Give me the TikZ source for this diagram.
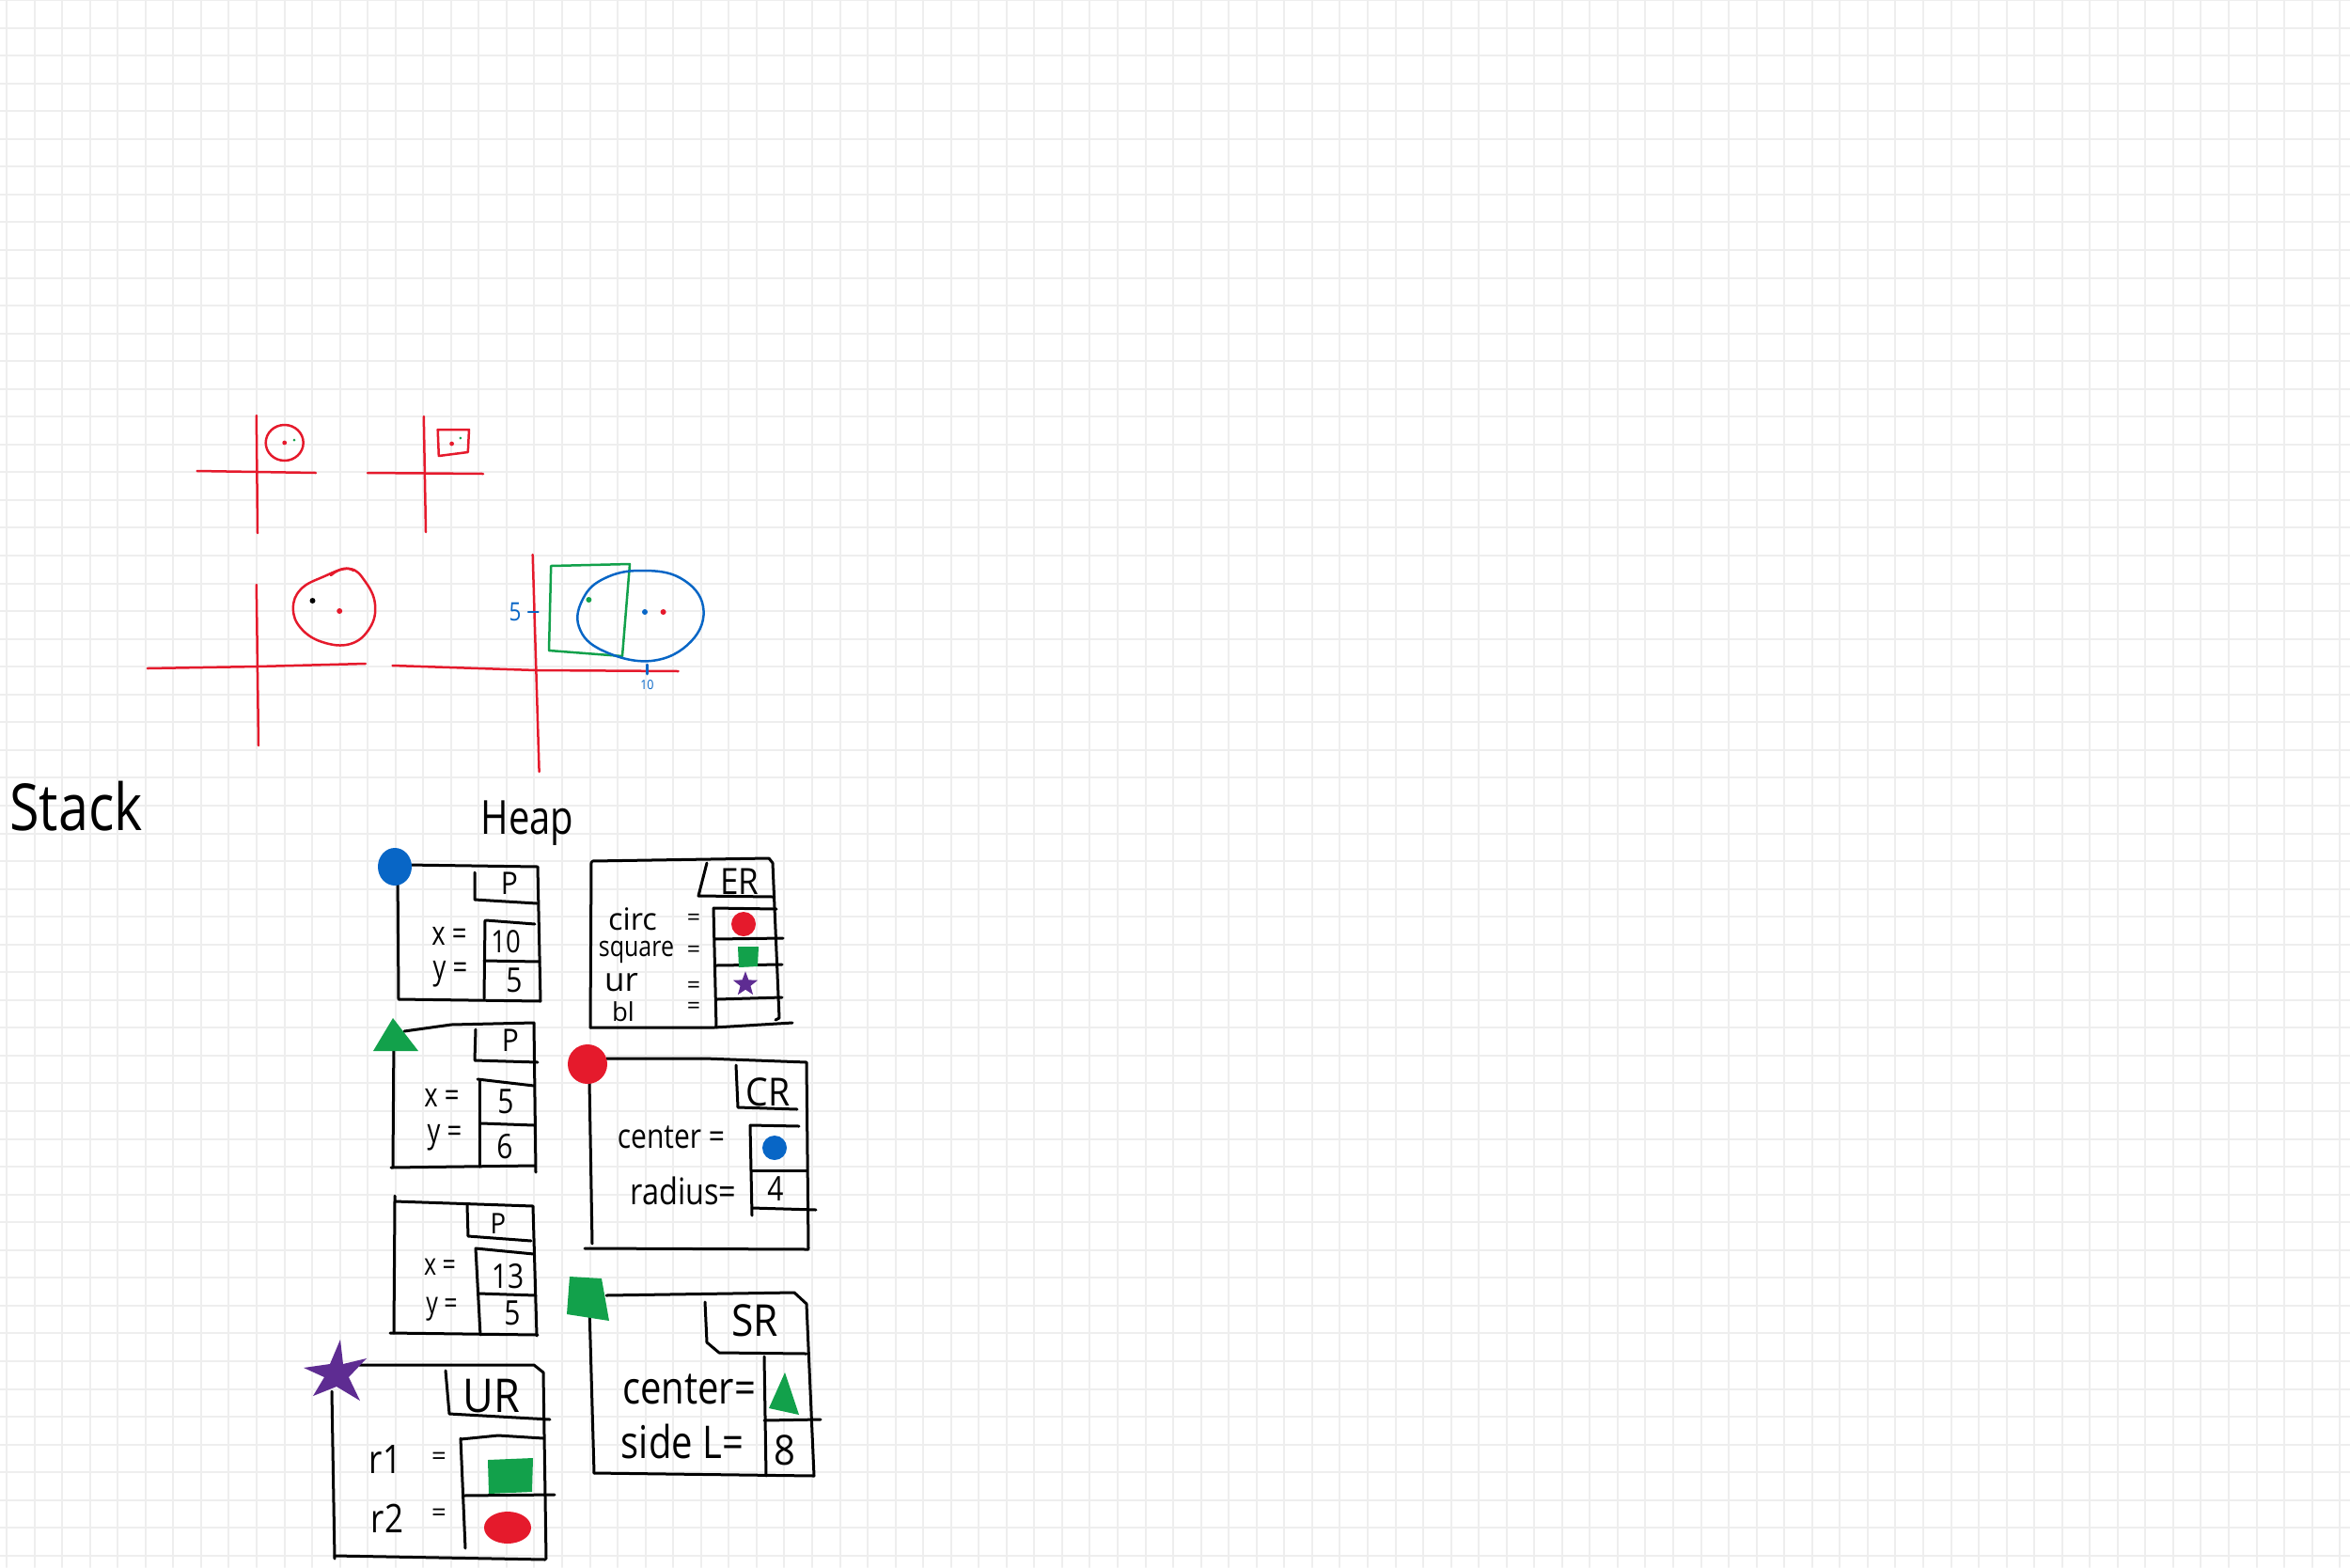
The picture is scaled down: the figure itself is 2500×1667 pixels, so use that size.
\documentclass[tikz,border=0pt]{standalone}
\usepackage{fontspec}
\setmainfont{Open Sans}
\usepackage{graphicx}
\usetikzlibrary{shapes.geometric}
\definecolor{gridc}{HTML}{EEEEEE}
\definecolor{hred}{HTML}{E51A2C}
\definecolor{hblue}{HTML}{0866C6}
\definecolor{hgreen}{HTML}{12A14B}
\definecolor{hpurple}{HTML}{5E2C92}
\newcommand{\hwt}[3]{\fontsize{#1}{#1}\selectfont\scalebox{1}[#2]{#3}}
\begin{document}
\begin{tikzpicture}[x=0.4pt,y=-0.4pt,line cap=round,line join=round,
  ink/.style={line width=1.2pt,black},
  axis/.style={line width=1pt,hred},
  thin/.style={line width=1pt},
  txt/.style={inner sep=0pt,anchor=center}]
\useasboundingbox (0,0) rectangle (2500,1667);
\fill[white] (0,0) rectangle (2500,1667);
% grid
\foreach \i in {0,...,84} \draw[gridc,line width=0.8pt] ({7+\i*29.55},0) -- ({7+\i*29.55},1667);
\foreach \i in {0,...,56} \draw[gridc,line width=0.8pt] (0,{\i*29.55}) -- (2500,{\i*29.55});

% ---------- graph 1 (circle)
\draw[axis] (272.8,442) -- (274,567);
\draw[axis] (209.7,501) -- (336,503);
\draw[axis] (302.7,471) ellipse[x radius=20,y radius=19];
\fill[hred] (302.7,471) circle[radius=2.4];
\fill[hgreen] (313,468) circle[radius=1.5];
% ---------- graph 2 (square)
\draw[axis] (450.8,443) -- (453,566);
\draw[axis] (391,503) -- (514,504);
\draw[axis] (465.7,457) -- (499,457) -- (497.8,481) -- (466.8,485) -- cycle;
\fill[hred] (480.6,472) circle[radius=2.4];
\fill[hgreen] (489.8,466) circle[radius=1.5];
% ---------- graph 3
\draw[axis] (272.8,622) -- (275,793);
\draw[axis] (156.9,711) -- (274,709) -- (388.8,706);
\draw[axis] plot[smooth cycle,tension=0.7] coordinates {(371.6,605) (388.8,619) (399,643) (393.4,668) (372.7,685) (342.9,683) (319.9,668) (311.9,647) (319.9,627) (342.9,614)};
\draw[axis] (352,612) .. controls (361.2,604) and (370.4,603) .. (376.2,607);
\fill[black] (332.5,639) circle[radius=3];
\fill[hred] (361.2,650) circle[radius=3];
% ---------- graph 4
\draw[axis] (566.7,590) -- (573.6,821);
\draw[axis] (417.5,708) -- (570.2,713) -- (721.7,714);
\draw[hgreen,thin] (586.2,602) -- (670,600) -- (662,698) -- (584,692) -- cycle;
\draw[hblue,thin] plot[smooth cycle,tension=0.7] coordinates {(681.5,607) (724,615) (748,645) (735.5,682) (693,703) (641,692) (616,667) (620.7,636) (643.6,615)};
\draw[hblue,thin] (688.4,707) -- (688.4,717);
\draw[hblue,thin] (562,651) -- (572.5,651);
\fill[hgreen] (626.4,638) circle[radius=3];
\fill[hblue] (686,651) circle[radius=3];
\fill[hred] (705.6,651) circle[radius=3];
\node[txt,text=hblue] (g5) at (548,651) {\hwt{9}{1.2}{5}};
\node[txt,text=hblue] (g10) at (688.4,729) {\hwt{5}{1.1}{10}};

% ---------- titles
\node[txt] (stack) at (81,858) {\hwt{23}{1.2}{Stack}};
\node[txt] (heap) at (561,876) {\hwt{16}{1.25}{Heap}};

% ---------- P1
\draw[ink] (433,920) -- (572,922) -- (575,1065) -- (424,1063) -- (423,925);
\draw[ink] (505,928) -- (505,957) -- (571,961);
\draw[ink] (517,979) -- (569,983);
\draw[ink] (516,979) -- (515,1062);
\draw[ink] (515,1022) -- (574,1023);
\fill[hblue] (420,922) ellipse[x radius=18,y radius=20];
\node[txt] (p1t) at (542,940) {\hwt{12}{1.1}{P}};
\node[txt] (p1x) at (478,996) {\hwt{11}{1.3}{x =}};
\node[txt] (p1y) at (479,1036) {\hwt{11}{1.3}{y =}};
\node[txt] (p1xv) at (538,1002) {\hwt{11}{1.2}{10}};
\node[txt] (p1yv) at (547,1043) {\hwt{12}{1.2}{5}};

% ---------- P2
\draw[ink] (430,1097) -- (480,1090) -- (568,1088) -- (570,1247);
\draw[ink] (419,1100) -- (418,1242);
\draw[ink] (416,1242) -- (569,1240);
\draw[ink] (506,1095) -- (505,1128) -- (572,1130);
\draw[ink] (508,1148) -- (568,1155);
\draw[ink] (510,1150) -- (510,1241);
\draw[ink] (512,1195) -- (568,1197);
\fill[hgreen] (418,1083) -- (397,1118) -- (445,1118) -- cycle;
\node[txt] (p2t) at (543,1107) {\hwt{12}{1.1}{P}};
\node[txt] (p2x) at (470,1168) {\hwt{11}{1.3}{x =}};
\node[txt] (p2y) at (473,1210) {\hwt{11}{1.3}{y =}};
\node[txt] (p2xv) at (538,1172) {\hwt{12}{1.2}{5}};
\node[txt] (p2yv) at (537,1220) {\hwt{12}{1.2}{6}};

% ---------- P3
\draw[ink] (420,1272) -- (420,1278) -- (567,1283) -- (571,1421);
\draw[ink] (420,1278) -- (419,1418);
\draw[ink] (415,1418) -- (572,1420);
\draw[ink] (497,1282) -- (498,1315) -- (565,1320);
\draw[ink] (506,1328) -- (568,1334);
\draw[ink] (506,1328) -- (511,1420);
\draw[ink] (509,1376) -- (570,1378);
\node[txt] (p3t) at (530,1302) {\hwt{11}{1.1}{P}};
\node[txt] (p3x) at (468,1348) {\hwt{10}{1.3}{x =}};
\node[txt] (p3y) at (470,1393) {\hwt{10}{1.3}{y =}};
\node[txt] (p3xv) at (540,1358) {\hwt{12}{1.2}{13}};
\node[txt] (p3yv) at (545,1397) {\hwt{12}{1.2}{5}};

% ---------- UR
\draw[ink] (382,1452) -- (568,1452) -- (578,1460) -- (581,1658);
\draw[ink] (353,1480) -- (356,1658);
\draw[ink] (356,1655) -- (580,1659);
\draw[ink] (474,1458) -- (478,1504) -- (585,1510);
\draw[ink] (490,1531) -- (530,1527) -- (578,1530);
\draw[ink] (490,1530) -- (495,1647);
\draw[ink] (493,1591) -- (590,1590);
\fill[hpurple] (362,1425) -- (365,1451) -- (390,1445) -- (371,1465) -- (383,1490) -- (358,1475) -- (333,1485) -- (345,1465) -- (323,1455) -- (351,1451) -- cycle;
\fill[hgreen] (519,1553) -- (567,1551) -- (566,1587) -- (520,1589) -- cycle;
\fill[hred] (540,1625) ellipse[x radius=25,y radius=17];
\node[txt] (urt) at (523,1485) {\hwt{18}{1.1}{UR}};
\node[txt] (ur1) at (410,1552) {\hwt{14}{1.2}{r1}};
\node[txt] (ure1) at (467,1552) {\hwt{11}{1}{=}};
\node[txt] (ur2) at (412,1615) {\hwt{14}{1.2}{r2}};
\node[txt] (ure2) at (467,1612) {\hwt{11}{1}{=}};

% ---------- ER
\draw[ink] (630,916) -- (818,913) -- (822,918) -- (829,1083) -- (825,1085);
\draw[ink] (629,917) -- (628,1093);
\draw[ink] (628,1093) -- (760,1093) -- (843,1088);
\draw[ink] (752,918) -- (743,953) -- (822,954);
\draw[ink] (759,966) -- (826,967);
\draw[ink] (759,966) -- (762,1093);
\draw[ink] (760,999) -- (833,998);
\draw[ink] (762,1027) -- (832,1026);
\draw[ink] (763,1063) -- (832,1061);
\fill[hred] (791,983) circle[radius=13];
\fill[hgreen] (785,1007) -- (807,1007) -- (806,1028) -- (786,1029) -- cycle;
\node[star,star points=5,star point ratio=2.4,fill=hpurple,minimum size=11pt,inner sep=0pt] (erstar) at (793,1047) {};
\node[txt] (ert) at (787,938) {\hwt{14}{1.1}{ER}};
\node[txt] (erc) at (673,978) {\hwt{13}{1}{circ}};
\node[txt] (ers) at (677,1013) {\hwt{10}{1.2}{square}};
\node[txt] (eru) at (661,1045) {\hwt{14}{1}{ur}};
\node[txt] (erb) at (663,1076) {\hwt{11}{1}{bl}};
\node[txt] (ere1) at (738,978) {\hwt{10}{1}{=}};
\node[txt] (ere2) at (738,1012) {\hwt{10}{1}{=}};
\node[txt] (ere3) at (738,1050) {\hwt{10}{1}{=}};
\node[txt] (ere4) at (738,1072) {\hwt{10}{1}{=}};

% ---------- CR
\draw[ink] (645,1126) -- (750,1126) -- (858,1130) -- (860,1328);
\draw[ink] (627,1150) -- (630,1323);
\draw[ink] (622,1328) -- (860,1329);
\draw[ink] (783,1133) -- (785,1178) -- (848,1180);
\draw[ink] (798,1197) -- (850,1198);
\draw[ink] (798,1197) -- (800,1293);
\draw[ink] (799,1245) -- (858,1245);
\draw[ink] (800,1285) -- (868,1287);
\fill[hred] (625,1132) circle[radius=21];
\fill[hblue] (824,1221) circle[radius=13];
\node[txt] (crt) at (817,1162) {\hwt{15}{1.1}{CR}};
\node[txt] (crc) at (714,1210) {\hwt{12}{1.2}{center =}};
\node[txt] (crr) at (727,1267) {\hwt{13}{1.2}{radius=}};
\node[txt] (crv) at (825,1265) {\hwt{12}{1.2}{4}};

% ---------- SR
\draw[ink] (645,1378) -- (845,1375) -- (858,1387) -- (866,1570);
\draw[ink] (627,1390) -- (632,1567);
\draw[ink] (632,1567) -- (866,1570);
\draw[ink] (750,1385) -- (752,1428) -- (765,1439) -- (858,1440);
\draw[ink] (813,1443) -- (815,1570);
\draw[ink] (813,1511) -- (873,1510);
\fill[hgreen] (606,1358) -- (640,1360) -- (648,1405) -- (603,1398) -- cycle;
\fill[hgreen] (835,1460) -- (818,1498) -- (850,1505) -- cycle;
\node[txt] (srt) at (803,1405) {\hwt{17}{1.1}{SR}};
\node[txt] (src) at (733,1478) {\hwt{16}{1.2}{center=}};
\node[txt] (srs) at (726,1533) {\hwt{16}{1.2}{side L=}};
\node[txt] (srv) at (835,1543) {\hwt{16}{1.1}{8}};
\end{tikzpicture}
\end{document}
